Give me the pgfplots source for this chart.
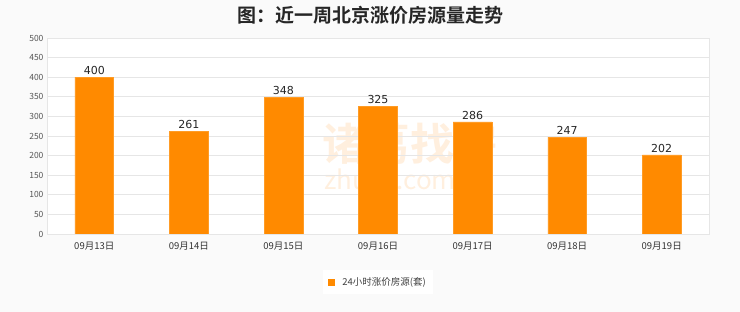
\documentclass[border=0pt]{standalone}
\usepackage{fontspec}
\setmainfont{Noto Sans CJK SC}
\newfontfamily\titlefont{Noto Sans CJK SC Bold}
\newfontfamily\numfont{DejaVu Sans}
\usepackage{pgfplots}
\pgfplotsset{compat=1.18}
\definecolor{barorange}{HTML}{FF8A00}
\definecolor{gridgray}{HTML}{E6E6E6}
\definecolor{ticktext}{HTML}{555555}
\begin{document}
\begin{tikzpicture}[x=1pt,y=1pt]
\fill[white!98!black] (0,0) rectangle (740,312);
\useasboundingbox (0,0) rectangle (740,312);
\fill[white] (47,78) rectangle (709,274);
\node[font=\titlefont\fontsize{19}{19}\selectfont, text=black!85] at (370,297) {图：近一周北京涨价房源量走势};
\node[font=\titlefont\fontsize{44}{44}\selectfont, text=barorange, opacity=0.13] at (410,168) {诸葛找房};
\node[font=\fontsize{26}{26}\selectfont, text=barorange, opacity=0.13] at (390,130) {zhuge.com};
\begin{axis}[
  at={(47pt,78pt)}, anchor=south west,
  scale only axis, width=662pt, height=196pt,
  xmin=-0.5, xmax=6.5, ymin=0, ymax=500,
  ytick={0,50,...,500},
  xtick={0,...,6},
  xticklabels={09月13日,09月14日,09月15日,09月16日,09月17日,09月18日,09月19日},
  x tick label style={font=\fontsize{9.5}{10}\selectfont, text=black!80},
  y tick label style={font=\fontsize{8.5}{9}\selectfont, text=ticktext},
  /pgf/number format/assume math mode=true,
  ymajorgrids, grid style={gridgray, line width=0.6pt},
  axis line style={gridgray, line width=0.8pt},
  tick style={draw=none},
  ybar, bar width=0.41,
  nodes near coords,
  every node near coord/.append style={font=\numfont\fontsize{11}{11}\selectfont, text=black!85, yshift=-1pt},
  legend style={at={(0.5,-0.245)}, anchor=center, draw=none, fill=white,
    font=\fontsize{9.5}{10}\selectfont, text=black!75, inner sep=5pt},
  legend image code/.code={\fill[barorange] (0pt,-3pt) rectangle (6pt,3pt); \path[draw=none,fill=none] (0pt,0pt) -- (12pt,0pt);},
]
\addplot[fill=barorange, draw=barorange!85!white] coordinates {(0,400) (1,261) (2,348) (3,325) (4,286) (5,247) (6,202)};
\addlegendentry{24小时涨价房源(套)}
\end{axis}
\end{tikzpicture}
\end{document}
